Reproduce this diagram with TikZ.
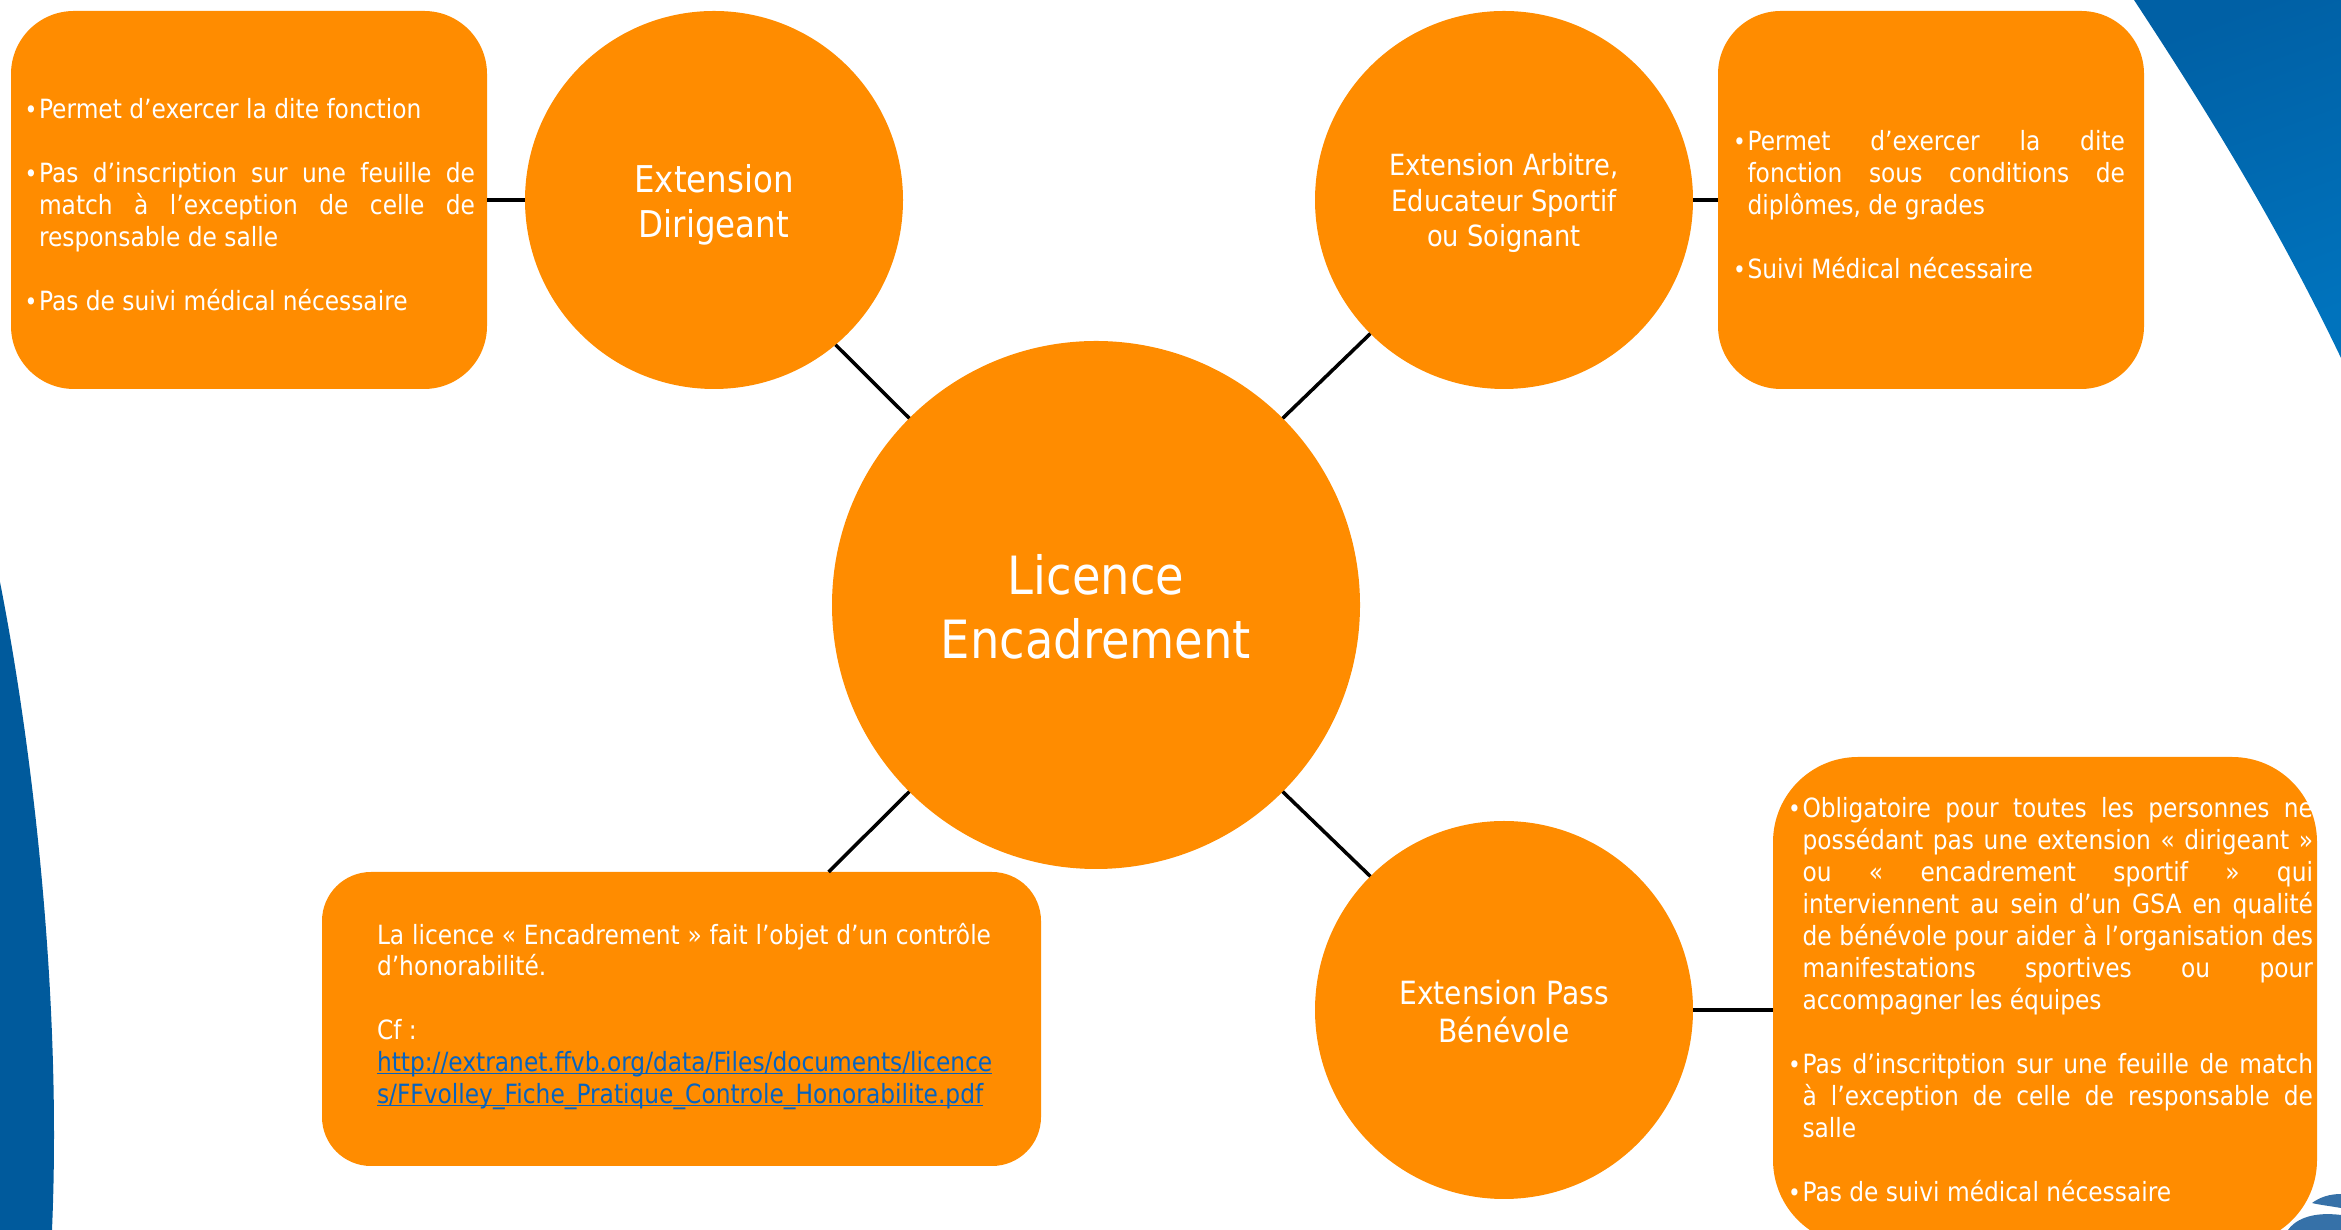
\documentclass[tikz,border=0pt]{standalone}
\usepackage{fontspec}
\setmainfont{DejaVu Sans}[FakeStretch=0.88]
\hbadness=10000
\hfuzz=2pt
\definecolor{orangeSA}{HTML}{FF8C00}
\definecolor{bleuG}{HTML}{005A9C}
\definecolor{bleuH}{HTML}{0060A5}
\definecolor{bleuB}{HTML}{0073BD}
\definecolor{bleuL}{HTML}{3671A8}
\definecolor{lienC}{HTML}{0563C1}
\newcommand{\puce}{\par\hangindent=0.145cm\hangafter=1\noindent\makebox[0.145cm][l]{\fontsize{7}{7}\selectfont•}}
\newcommand{\vide}{\par\vspace{9.1pt}}
\newcommand{\lien}[1]{\setbox0\hbox{#1}\textcolor{lienC}{\rlap{\rule[-0.7pt]{\wd0}{0.3pt}}\box0}}
\begin{document}
\begin{tikzpicture}[
  rond/.style = {
    shape = circle,
    fill = orangeSA,
    minimum size = 3.78cm,
    inner sep = 0pt,
    outer sep = 0pt,
  },
  legende/.style = {
    inner sep = 0pt,
    outer sep = 0pt,
    text = white,
    align = center,
  },
  cadre/.style = {
    shape = rectangle,
    fill = orangeSA,
    inner sep = 0pt,
    outer sep = 0pt,
  },
  texte/.style = {
    inner sep = 0pt,
    outer sep = 0pt,
    text = white,
    align = justify,
    font = \fontsize{7.54}{9.1}\selectfont,
  },
  trait/.style = {
    line width = 1pt,
    color = black,
  }
]
  \useasboundingbox (0, 0) rectangle (23.41, 12.30);

  \fill[bleuG] (0, 6.48) .. controls (0.33, 4.8) and (0.62, 2.3) .. (0.52, 0) -- (0, 0) -- cycle;
  \shade[left color = bleuH, right color = bleuB, shading angle = 20]
    (21.34, 12.30) .. controls (22.03, 11.25) and (22.75, 10.1) .. (23.41, 8.72) -- (23.41, 12.30) -- cycle;
  \fill[bleuL] (23.12, 0.27) .. controls (23.2, 0.33) and (23.3, 0.36) .. (23.41, 0.36) -- (23.41, 0.22) .. controls (23.3, 0.24) and (23.2, 0.25) .. cycle;
  \fill[bleuL] (22.88, 0) .. controls (22.94, 0.09) and (23.1, 0.19) .. (23.41, 0.15) -- (23.41, 0) -- cycle;

  \node[rond, minimum size = 5.28cm] (lic) at (10.96, 6.25) {};
  \node[rond] (dir) at (7.14, 10.30) {};
  \node[rond] (arb) at (15.04, 10.30) {};
  \node[rond] (pass) at (15.04, 2.20) {};

  \node[cadre, rounded corners = 0.63cm, minimum width = 4.76cm, minimum height = 3.78cm] (b1) at (2.49, 10.30) {};
  \node[cadre, rounded corners = 0.63cm, minimum width = 4.26cm, minimum height = 3.78cm] (b2) at (19.31, 10.30) {};
  \node[cadre, rounded corners = 0.49cm, minimum width = 7.19cm, minimum height = 2.94cm] (b3) at (6.815, 2.11) {};
  \node[cadre, rounded corners = 0.85cm, minimum width = 5.44cm, minimum height = 4.88cm] (b4) at (20.45, 2.29) {};

  \draw[trait] (lic.135) -- (dir.-50);
  \draw[trait] (lic.45) -- (arb.225);
  \draw[trait] (lic.-45) -- (pass.135);
  \draw[trait] (lic.225) -- (b3.45);
  \draw[trait] (dir.west) -- (b1.east);
  \draw[trait] (arb.east) -- (b2.west);
  \draw[trait] (pass.east) -- (pass.east -| b4.west);

  \node[legende, font = \fontsize{15}{18.2}\selectfont] (tlic) at (10.96, 6.235) {Licence\\Encadrement};
  \node[legende, font = \fontsize{10.5}{12.8}\selectfont] (tdir) at (7.14, 10.255) {Extension\\Dirigeant};
  \node[legende, font = \fontsize{8.3}{10}\selectfont] (tarb) at (15.04, 10.27) {Extension Arbitre,\\Educateur Sportif\\ou Soignant};
  \node[legende, font = \fontsize{9.1}{10.7}\selectfont] (tpass) at (15.04, 2.185) {Extension Pass\\Bénévole};

  \node[texte, text width = 4.505cm] (t1) at (2.4975, 10.315) {%
    \puce Permet d’exercer la dite fonction\vide
    \puce Pas d’inscription sur une feuille de\linebreak match à l’exception de celle de\linebreak responsable de salle\vide
    \puce Pas de suivi médical nécessaire};
  \node[texte, text width = 3.92cm] (t2) at (19.29, 10.315) {%
    \puce Permet d’exercer la dite\linebreak fonction sous conditions de\linebreak diplômes, de grades\vide
    \puce Suivi Médical nécessaire};
  \node[texte, text width = 6.14cm] (t3) at (6.84, 2.135) {%
    \noindent La licence « Encadrement » fait l’objet d’un contrôle\linebreak d’honorabilité.\vide
    \noindent Cf :\par
    \noindent\lien{http://extranet.ffvb.org/data/Files/documents/licence}\par
    \noindent\lien{s/FFvolley\_Fiche\_Pratique\_Controle\_Honorabilite.pdf}};
  \node[texte, text width = 5.25cm] (t4) at (20.505, 2.365) {%
    \puce Obligatoire pour toutes les personnes ne\linebreak possédant pas une extension « dirigeant »\linebreak ou « encadrement sportif » qui\linebreak interviennent au sein d’un GSA en qualité\linebreak de bénévole pour aider à l’organisation des\linebreak manifestations sportives ou pour\linebreak accompagner les équipes\vide
    \puce Pas d’inscritption sur une feuille de match\linebreak à l’exception de celle de responsable de\linebreak salle\vide
    \puce Pas de suivi médical nécessaire};
\end{tikzpicture}
\end{document}
